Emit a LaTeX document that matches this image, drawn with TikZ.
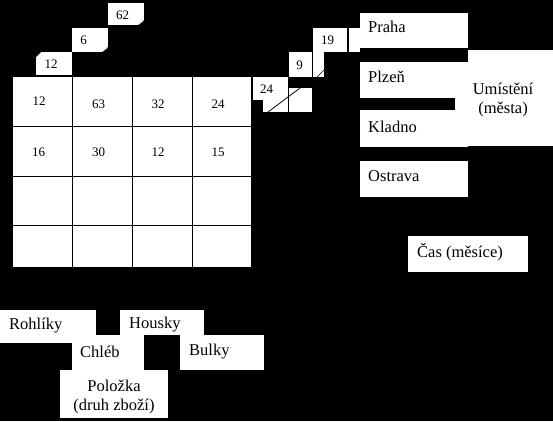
\documentclass[tikz,border=0pt]{standalone}
\usepackage{fontspec}
\setmainfont{Liberation Serif}
\newcommand\lblfont{\fontsize{16.5}{19}\selectfont}
\newcommand\numfont{\fontsize{13}{15}\selectfont}
\begin{document}
\begin{tikzpicture}[x=1pt,y=-1pt,
  wbox/.style={fill=white},
  lbl/.style={font=\lblfont,inner sep=0pt,text=black},
  num/.style={font=\numfont,inner sep=0pt,text=black},
  gridline/.style={draw=black,line width=1pt}]
\fill[black] (0,0) rectangle (553,421);
\useasboundingbox (0,0) rectangle (553,421);
% data cube front face
\fill[wbox] (13,77) rectangle (251,267);
\foreach \x in {72,132,192} \draw[gridline] (\x,77) -- (\x,267);
\foreach \y in {126,176,225} \draw[gridline] (13,\y) -- (251,\y);
\node[num] (c11) at (39,101) {12};
\node[num] (c12) at (98.5,104) {63};
\node[num] (c13) at (158,104) {32};
\node[num] (c14) at (218,104) {24};
\node[num] (c21) at (38.5,152) {16};
\node[num] (c22) at (98.5,152) {30};
\node[num] (c23) at (158,152) {12};
\node[num] (c24) at (218,152) {15};
% top depth boxes
\fill[wbox] (36,52) rectangle (72,75);
\fill[black] (36,52) -- (41,52) -- (36,57) -- cycle;
\node[num] (t1) at (51,64) {12};
\fill[wbox] (72,28) rectangle (108,52);
\fill[black] (102,52) -- (108,52) -- (108,47) -- cycle;
\draw[white,line width=0.6pt] (102.5,51.5) -- (107.5,47.5);
\node[num] (t2) at (83.5,40) {6};
\fill[wbox] (108,3) rectangle (144,25);
\fill[black] (138,25) -- (144,25) -- (144,20) -- cycle;
\draw[white,line width=0.6pt] (138.5,24.5) -- (143.5,20.5);
\node[num] (t3) at (122.5,15) {62};
% right depth boxes
\fill[wbox] (253,77) rectangle (288,100);
\fill[wbox] (263,88) rectangle (312,112);
\draw[black,line width=1pt] (288,88) -- (288,112);
\draw[black,line width=0.8pt] (268,112) -- (300,88);
\node[num] (r1) at (266.5,89) {24};
\fill[wbox] (289,52) rectangle (312,77);
\node[num] (r2) at (299.5,65) {9};
\fill[wbox] (313,28) rectangle (347,52);
\fill[wbox] (313,52) rectangle (324,77);
\draw[black,line width=0.6pt] (317,77) -- (324,70);
\node[num] (r3) at (327.5,40) {19};
\fill[wbox] (349,28) rectangle (360,52);
% city boxes
\fill[wbox] (360,13) rectangle (468,48);
\node[lbl,anchor=west] (praha) at (368,27) {Praha};
\fill[wbox] (468,50) rectangle (553,146);
\fill[wbox] (455,98) rectangle (468,110);
\fill[wbox] (360,62) rectangle (468,98);
\node[lbl,anchor=west] (plzen) at (368,77) {Plzeň};
\fill[wbox] (360,110) rectangle (468,147);
\node[lbl,anchor=west] (kladno) at (368,127) {Kladno};
\node[lbl,align=center] (umisteni) at (503,100) {Umístění\\(města)};
\fill[wbox] (360,161) rectangle (468,197);
\node[lbl,anchor=west] (ostrava) at (368,176) {Ostrava};
% time
\fill[wbox] (408,236) rectangle (528,272);
\node[lbl,anchor=west] (cas) at (417,252) {Čas (měsíce)};
% items
\fill[wbox] (0,310) rectangle (96,343);
\node[lbl,anchor=west] (rohliky) at (9,326) {Rohlíky};
\fill[wbox] (120,310) rectangle (204,335);
\node[lbl,anchor=west] (housky) at (129,325) {Housky};
\fill[wbox] (72,335) rectangle (144,370);
\node[lbl,anchor=west] (chleb) at (80,352) {Chléb};
\fill[wbox] (180,335) rectangle (264,370);
\node[lbl,anchor=west] (bulky) at (189,352) {Bulky};
\fill[wbox] (60,370) rectangle (168,418);
\node[lbl,align=center] (polozka) at (114,397) {Položka\\(druh zboží)};
\end{tikzpicture}
\end{document}
